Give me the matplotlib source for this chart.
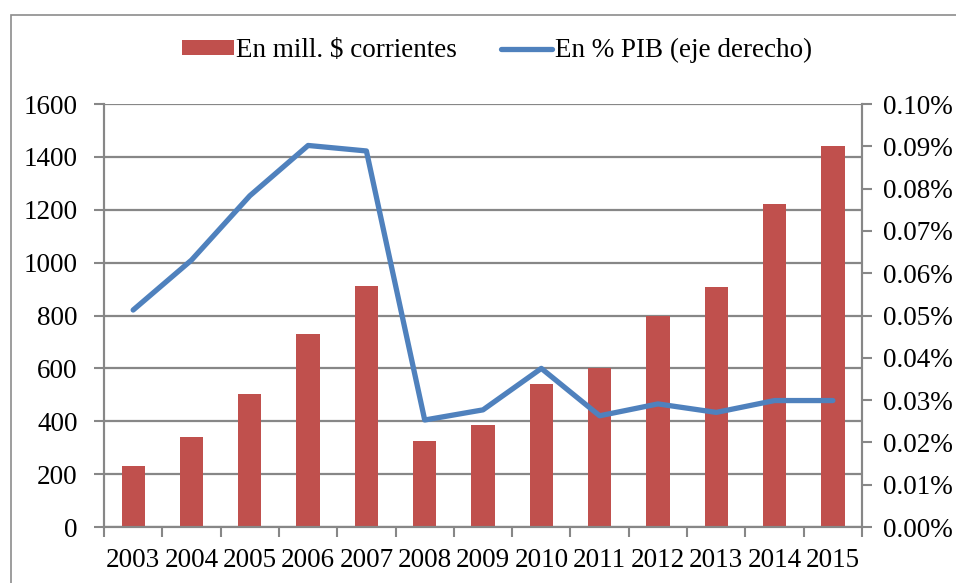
import matplotlib
matplotlib.use("Agg")
import matplotlib.pyplot as plt
from matplotlib.patches import Rectangle
import numpy as np

plt.rcParams["font.family"] = ["Liberation Serif", "DejaVu Serif"]

years = ["2003", "2004", "2005", "2006", "2007", "2008", "2009",
         "2010", "2011", "2012", "2013", "2014", "2015"]
mill_usd = [230, 340, 502, 730, 910, 325, 387, 540, 602, 800, 906, 1220, 1440]
pct_pib = [0.0513, 0.0631, 0.0783, 0.0902, 0.0889, 0.0253, 0.0277,
           0.0375, 0.0263, 0.0291, 0.0271, 0.0299, 0.0299]

bar_color = "#C0504D"
line_color = "#4F81BD"
grid_color = "#878787"
fs = 19.5

fig = plt.figure(figsize=(9.56, 5.83), dpi=100)
ax = fig.add_axes([0.1088, 0.096, 0.7929, 0.7256])

# outer chart frame
fig.patches.append(Rectangle((0.011, -0.2), 1.2, 1.2 - 15 / 583,
                             transform=fig.transFigure, fill=False,
                             edgecolor="#8c8c8c", linewidth=1.2))

x = np.arange(len(years))
ax.bar(x, mill_usd, width=0.4, color=bar_color, zorder=2,
       label="En mill. $ corrientes")
ax.set_xlim(-0.5, len(years) - 0.5)
ax.set_ylim(0, 1600)
ax.set_yticks(np.arange(0, 1601, 200))
ax.yaxis.grid(True, color=grid_color, linewidth=1.6, zorder=0)
ax.set_axisbelow(True)

ax.set_xticks(x)
ax.set_xticklabels(years)
ax.set_xticks(np.arange(-0.5, len(years)), minor=True)
ax.tick_params(axis="x", which="major", length=0, pad=15, labelsize=fs)
ax.tick_params(axis="x", which="minor", length=7, width=1.5, color=grid_color)
ax.tick_params(axis="y", length=7, width=1.5, color=grid_color, pad=12,
               labelsize=fs)

ax2 = ax.twinx()
ax2.plot(x, pct_pib, color=line_color, linewidth=3.8, zorder=3,
         solid_capstyle="round", solid_joinstyle="round",
         label="En % PIB (eje derecho)")
ax2.set_ylim(0, 0.1)
ax2.set_yticks(np.arange(0, 0.1001, 0.01))
ax2.set_yticklabels([f"{v:.2f}%" for v in np.arange(0, 0.1001, 0.01)])
ax2.tick_params(axis="y", length=7, width=1.5, color=grid_color, pad=8,
                labelsize=fs)

for a in (ax, ax2):
    for side in ("top", "right", "left", "bottom"):
        a.spines[side].set_color(grid_color)
        a.spines[side].set_linewidth(1.5)
    a.spines["top"].set_visible(False)

h1, l1 = ax.get_legend_handles_labels()
h2, l2 = ax2.get_legend_handles_labels()
fig.legend(h1 + h2, l1 + l2, loc="center", bbox_to_anchor=(0.52, 0.913),
           ncol=2, frameon=False, fontsize=fs, handlelength=1.9,
           handleheight=0.45, handletextpad=0.1, columnspacing=1.6)

plt.savefig("out.png", dpi=100)
